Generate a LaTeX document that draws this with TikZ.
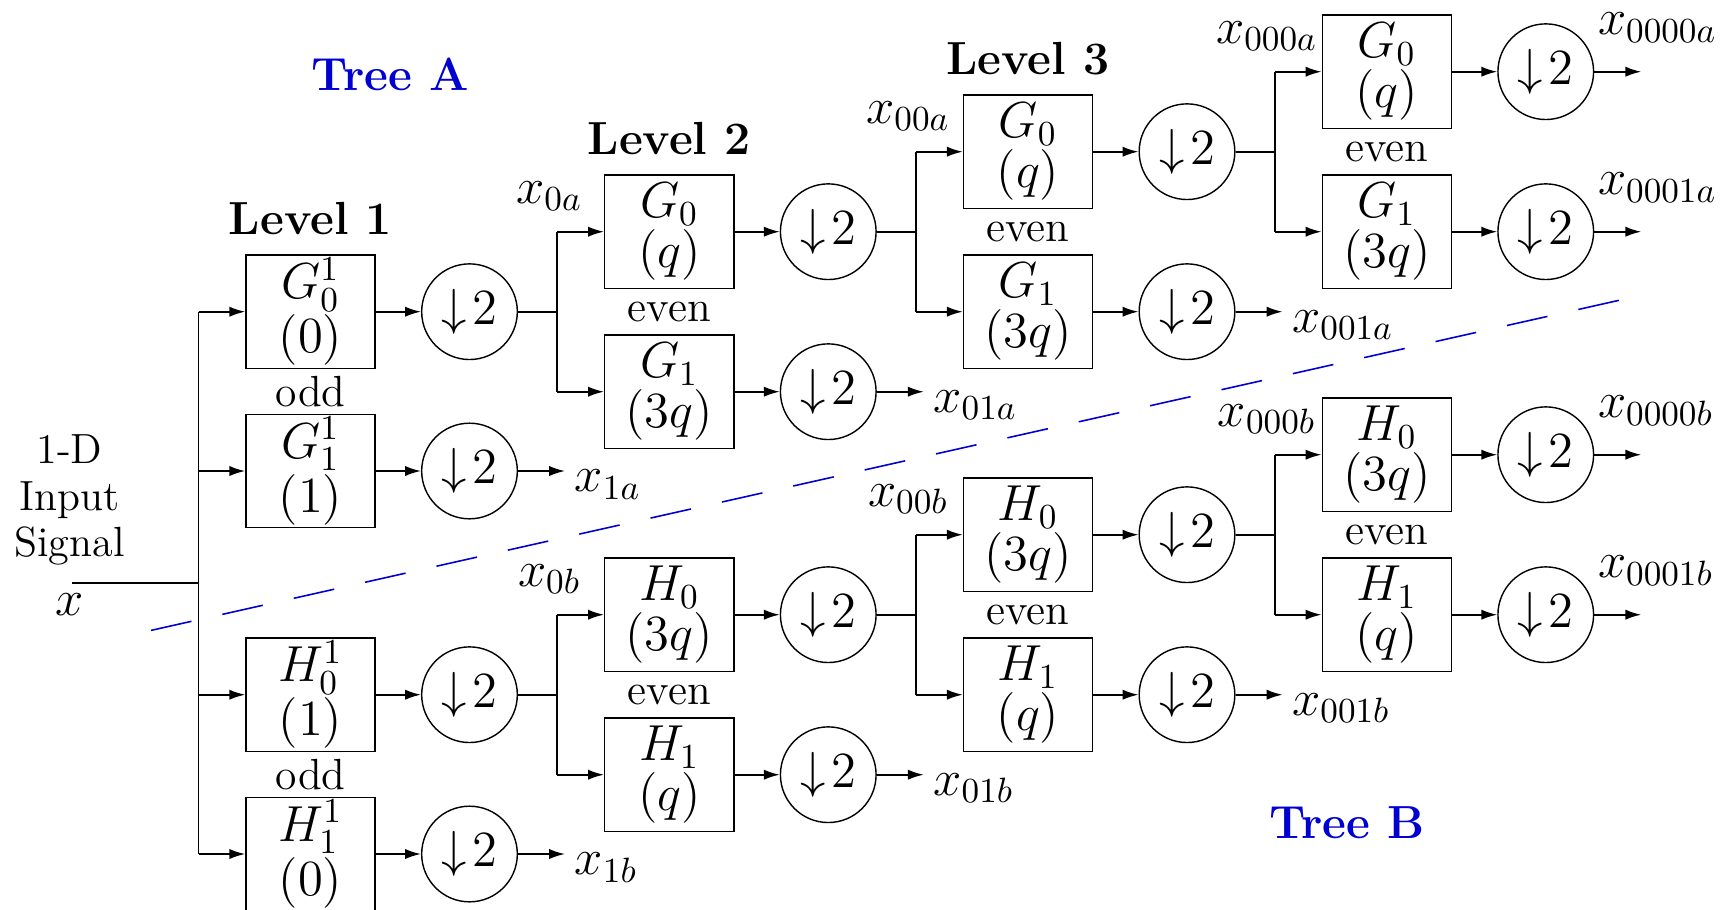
\documentclass[tikz,border=0pt]{standalone}
\usetikzlibrary{arrows.meta,calc}
\definecolor{treeblue}{rgb}{0,0,0.82}
\tikzset{
  txt/.style={font=\fontsize{12}{13.2}\selectfont},
  filt/.style={font=\fontsize{14}{14.2}\selectfont, draw, line width=0.4pt, minimum width=1.29cm, minimum height=1.13cm, inner sep=0pt, align=center},
  dec/.style={font=\fontsize{14}{15}\selectfont, draw, circle, line width=0.4pt, minimum size=0.956cm, inner sep=0pt},
  wire/.style={line width=0.5pt},
  arr/.style={wire, -{Latex[length=4.5pt,width=2.9pt]}},
  sig/.style={font=\fontsize{14.4}{16}\selectfont, inner sep=0pt},
  parity/.style={font=\fontsize{12.4}{14}\selectfont, inner sep=0pt},
  lvl/.style={font=\fontsize{13.2}{15}\selectfont\bfseries},
  treelbl/.style={font=\fontsize{13.2}{15}\selectfont\bfseries, text=treeblue},
}
% downsampler symbol
\def\dnsamp{${\downarrow}\mkern2mu 2$}
\begin{document}
\begin{tikzpicture}[x=0.01cm, y=-0.01cm]
\useasboundingbox (0,0) rectangle (1728,909);

% ---- input signal ----
\node[txt, align=center] (insig) at (69.4,500) {1-D\\Input\\Signal};
\coordinate (src) at (72,582.7);
\node[sig, anchor=base] (xin) at (69.4,615) {$x$};

% ---- level 1 ----
\node[lvl] (lev1) at (310.5,218.2) {Level 1};
\node[filt] (f1a0) at (310.5,311.7) {$G_0^1$\\$(0)$};
\node[filt] (f1a1) at (310.5,471.0) {$G_1^1$\\$(1)$};
\node[filt] (f1b0) at (310.5,694.7) {$H_0^1$\\$(1)$};
\node[filt] (f1b1) at (310.5,854.0) {$H_1^1$\\$(0)$};
\node[parity] (odda) at (310.5,391.35) {odd};
\node[parity] (oddb) at (310.5,774.35) {odd};
\foreach \t/\y in {a0/311.7, a1/471.0, b0/694.7, b1/854.0}{
  \node[dec] (d1\t) at (469.5,\y) {\dnsamp};
  \coordinate (j1\t) at (198.6,\y);
  \draw[arr] (j1\t) -- (f1\t);
  \draw[arr] (f1\t) -- (d1\t);
}
\draw[wire] (src) -- (src -| j1a0);
\draw[wire] (j1a0) -- (j1b1);
\foreach \t in {a,b}{
  \draw[arr] (d1\t1.east) -- ++(47,0) coordinate (o1\t1);
  \node[sig, anchor=base west] (x1\t) at ($(o1\t1)+(9,20.5)$) {$x_{1\t}$};
}

% ---- levels 2 to 4 ----
\foreach \k/\z in {2/0,3/00,4/000}{
  \pgfmathtruncatemacro\km{\k-1}
  \pgfmathsetmacro\xb{310.5+358.75*(\k-1)}
  \pgfmathsetmacro\xc{\xb+159}
  \pgfmathsetmacro\xj{\xb-111.9}
  \foreach \t/\dy/\Fl/\pz/\po in {a/0/G/q/3q, b/383/H/3q/q}{
    \pgfmathsetmacro\yz{311.7-80*(\k-1)+\dy}
    \pgfmathsetmacro\yo{\yz+160}
    \node[filt] (f\k\t0) at (\xb,\yz) {$\Fl_0$\\$(\pz)$};
    \node[filt] (f\k\t1) at (\xb,\yo) {$\Fl_1$\\$(\po)$};
    \node[dec] (d\k\t0) at (\xc,\yz) {\dnsamp};
    \node[dec] (d\k\t1) at (\xc,\yo) {\dnsamp};
    \coordinate (j\k\t0) at (\xj,\yz);
    \coordinate (j\k\t1) at (\xj,\yo);
    \node[parity] (ev\k\t) at (\xb,{\yz+80}) {even};
    \node[sig, anchor=base] (in\k\t) at ({\xj-8},{\yz-28.4}) {$x_{\z\t}$};
    \draw[wire] (d\km\t0.east) -- (d\km\t0.east -| j\k\t0);
    \draw[wire] (j\k\t0) -- (j\k\t1);
    \foreach \r in {0,1}{
      \draw[arr] (j\k\t\r) -- (f\k\t\r);
      \draw[arr] (f\k\t\r) -- (d\k\t\r);
    }
    \ifnum\k<4
      \draw[arr] (d\k\t1.east) -- ++(47,0) coordinate (o\k\t1);
      \node[sig, anchor=base west] (out\k\t) at ($(o\k\t1)+(9,20.5)$) {$x_{\z1\t}$};
    \else
      \foreach \r in {0,1}{
        \draw[arr] (d\k\t\r.east) -- ++(47,0) coordinate (o\k\t\r);
        \node[sig, anchor=base west] (out\k\t\r) at ($(d\k\t\r.east)+(3,-37)$) {$x_{\z\r\t}$};
      }
    \fi
  }
  \ifnum\k<4
    \node[lvl] (lev\k) at (\xb,{311.7-80*(\k-1)-93.5}) {Level \k};
  \fi
}

% ---- tree labels and separating line ----
\node[treelbl] (treeA) at (390,74) {Tree A};
\node[treelbl] (treeB) at (1347,823) {Tree B};
\coordinate (cutL) at (151,630.4);
\coordinate (cutR) at (1626.6,298.6);
\draw[treeblue, line width=0.45pt, dash pattern=on 11.8pt off 9pt] (cutL) -- (cutR);
\end{tikzpicture}
\end{document}
